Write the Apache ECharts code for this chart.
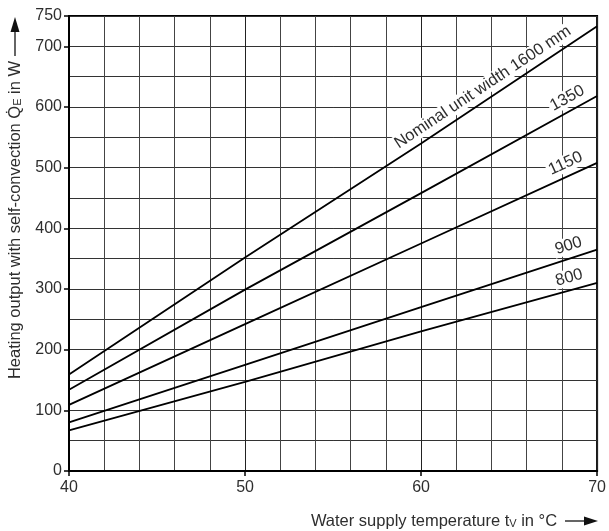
<!DOCTYPE html>
<html>
<head>
<meta charset="utf-8">
<script src="https://cdn.jsdelivr.net/npm/echarts@6/dist/echarts.min.js"></script>
<style>
html,body{margin:0;padding:0;background:#fff;}
#c{width:609px;height:531px;}
</style>
</head>
<body>
<div id="c"></div>
<script>
// ---- data ----
var temps = [40, 50, 60, 70];
var w1600 = [159, 352, 540, 733];
var w1350 = [134, 299, 458, 618];
var w1150 = [109, 242, 375, 508];
var w900  = [80, 175, 270, 365];
var w800  = [67, 147, 230, 310];
var seriesNames = ['1600', '1350', '1150', '900', '800'];
var curveLabels = ['Nominal unit width 1600 mm', '1350', '1150', '900', '800'];
var labelAtTemp = [63.9, 68.65, 68.5, 68.6, 68.6];
var yTickLabels = [0, 100, 200, 300, 400, 500, 600, 700, 750];
var xTickLabels = [40, 50, 60, 70];

var allSeries = [w1600, w1350, w1150, w900, w800];
var FONT = '"Liberation Sans", Arial, sans-serif';
var TXT = '#2e2e2e';

function pairs(vals) { return temps.map(function (t, i) { return [t, vals[i]]; }); }

var chart = echarts.init(document.getElementById('c'));
var option = {
  animation: false,
  backgroundColor: '#fff',
  grid: { left: 69, right: 9, top: 16, bottom: 60, show: true, borderColor: '#000', borderWidth: 2, containLabel: false },
  xAxis: [{
    type: 'value', min: 40, max: 70, interval: 10,
    axisLine: { show: true, onZero: false, lineStyle: { color: '#000', width: 2 } },
    axisTick: { show: true, inside: false, length: 5, lineStyle: { color: '#000', width: 1.5 } },
    axisLabel: { show: true, margin: 9, color: TXT, fontSize: 16, fontFamily: FONT,
      formatter: function (v) { return xTickLabels.indexOf(v) >= 0 ? String(v) : ''; } },
    splitLine: { show: true, lineStyle: { color: '#222', width: 1 } },
    minorTick: { show: false, splitNumber: 5 },
    minorSplitLine: { show: true, lineStyle: { color: '#444', width: 1 } }
  }],
  yAxis: [{
    type: 'value', min: 0, max: 750, interval: 50,
    axisLine: { show: true, onZero: false, lineStyle: { color: '#000', width: 2 } },
    axisTick: { show: false },
    axisLabel: { show: false },
    splitLine: { show: true, lineStyle: { color: '#333', width: 1 } }
  }, {
    type: 'value', min: 0, max: 750, interval: 100, position: 'left',
    axisLine: { show: false },
    axisTick: { show: true, inside: false, length: 5, lineStyle: { color: '#000', width: 1.5 } },
    axisLabel: { show: true, margin: 7, color: TXT, fontSize: 16, fontFamily: FONT,
      formatter: function (v) { return yTickLabels.indexOf(v) >= 0 ? String(v) : ''; } },
    splitLine: { show: false }
  }],
  series: allSeries.map(function (vals, i) {
    return {
      name: seriesNames[i], type: 'line', xAxisIndex: 0, yAxisIndex: 0,
      data: pairs(vals), showSymbol: false, symbol: 'none', smooth: false,
      lineStyle: { color: '#000', width: 1.8 }, z: 5, silent: true
    };
  })
};
chart.setOption(option);

function valueAt(vals, t) {
  for (var i = 0; i < temps.length - 1; i++) {
    if (t >= temps[i] && t <= temps[i + 1]) {
      var f = (t - temps[i]) / (temps[i + 1] - temps[i]);
      return { v: vals[i] + f * (vals[i + 1] - vals[i]), i: i };
    }
  }
  return { v: vals[vals.length - 1], i: temps.length - 2 };
}

var graphics = [];
allSeries.forEach(function (vals, k) {
  var t = labelAtTemp[k];
  var r = valueAt(vals, t);
  var p = chart.convertToPixel({ gridIndex: 0 }, [t, r.v]);
  var a = chart.convertToPixel({ gridIndex: 0 }, [temps[r.i], vals[r.i]]);
  var b = chart.convertToPixel({ gridIndex: 0 }, [temps[r.i + 1], vals[r.i + 1]]);
  var dx = b[0] - a[0], dy = b[1] - a[1];
  var len = Math.sqrt(dx * dx + dy * dy);
  dx /= len; dy /= len;
  var nx = dy, ny = -dx;
  var off = 12.5;
  var ang = Math.atan2(-dy, dx);
  graphics.push({
    type: 'text', x: p[0] + nx * off, y: p[1] + ny * off, rotation: ang, z: 100,
    style: { text: curveLabels[k], align: 'center', verticalAlign: 'middle',
      fontSize: 16.5, fontFamily: FONT, fill: TXT, backgroundColor: '#fff', padding: [0, 2] }
  });
});

// axis titles
graphics.push({
  type: 'text', x: 434, y: 521, z: 100,
  style: { text: 'Water supply temperature t{sub|V} in °C', align: 'center', verticalAlign: 'middle',
    fontSize: 16.5, fontFamily: FONT, fill: TXT,
    rich: { sub: { fontSize: 11, fontFamily: FONT, fill: TXT, verticalAlign: 'bottom', lineHeight: 10, padding: [6, 0, 0, 0] } } }
});
graphics.push({ type: 'line', z: 100, shape: { x1: 565, y1: 521, x2: 586, y2: 521 }, style: { stroke: '#111', lineWidth: 1.3 } });
graphics.push({ type: 'polygon', z: 100, shape: { points: [[584, 516.5], [598, 521], [584, 525.5]] }, style: { fill: '#111' } });

graphics.push({
  type: 'text', x: 15, y: 220, rotation: Math.PI / 2, z: 100,
  style: { text: 'Heating output with self-convection Q\u0307{sub|E} in W', align: 'center', verticalAlign: 'middle',
    fontSize: 16.5, fontFamily: FONT, fill: TXT,
    rich: { sub: { fontSize: 11, fontFamily: FONT, fill: TXT, verticalAlign: 'bottom', lineHeight: 10, padding: [6, 0, 0, 0] } } }
});
graphics.push({ type: 'line', z: 100, shape: { x1: 15, y1: 56, x2: 15, y2: 30 }, style: { stroke: '#111', lineWidth: 1.3 } });
graphics.push({ type: 'polygon', z: 100, shape: { points: [[10.5, 32], [15, 17], [19.5, 32]] }, style: { fill: '#111' } });

chart.setOption({ graphic: graphics });
</script>
</body>
</html>
